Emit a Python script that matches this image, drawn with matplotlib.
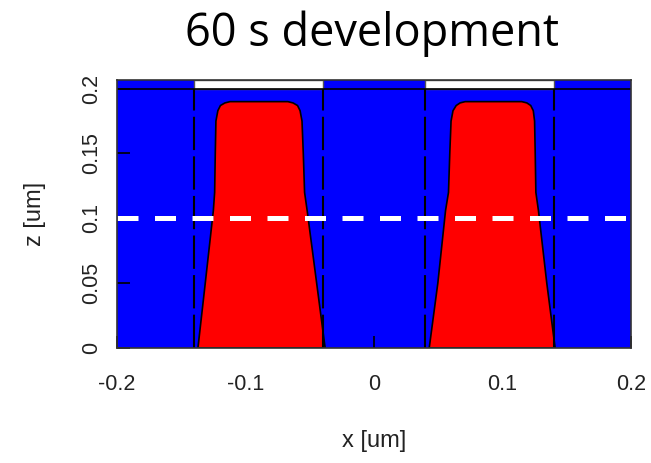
import numpy as np
import matplotlib.pyplot as plt
from matplotlib.patches import Polygon, Rectangle

# resist line profiles after development: edge positions (um) at each height z (um)
z_levels = [0.0, 0.05, 0.106, 0.12, 0.15, 0.175, 0.183, 0.187, 0.189, 0.190]
left_line_xl = [-0.137, -0.1313, -0.125, -0.124, -0.1235, -0.123, -0.1215, -0.1195, -0.116, -0.112]
left_line_xr = [-0.038, -0.0446, -0.052, -0.054, -0.055, -0.056, -0.0575, -0.0595, -0.063, -0.067]
right_line_xl = [0.043, 0.0497, 0.0557, 0.058, 0.059, 0.060, 0.0615, 0.064, 0.067, 0.071]
right_line_xr = [0.141, 0.1345, 0.128, 0.126, 0.1255, 0.125, 0.124, 0.122, 0.119, 0.115]

# mask openings and resist thickness
mask_open = [(-0.14, -0.04), (0.04, 0.14)]
resist_top = 0.2
mask_top = 0.2066
cut_z = 0.1

xticks = [-0.2, -0.1, 0, 0.1, 0.2]
yticks = [0, 0.05, 0.1, 0.15, 0.2]
xtick_labels = ['-0.2', '-0.1', '0', '0.1', '0.2']
ytick_labels = ['0', '0.05', '0.1', '0.15', '0.2']

plt.rcParams['font.family'] = ['Liberation Sans', 'DejaVu Sans']

fig = plt.figure(figsize=(6.51, 4.63), dpi=100)
ax = fig.add_axes([0.1797, 0.2484, 0.7895, 0.5786])
ax.set_xlim(-0.2, 0.2)
ax.set_ylim(0, mask_top)

# developer (blue) fills the resist layer and the mask strip
ax.add_patch(Rectangle((-0.2, 0), 0.4, resist_top, facecolor='#0000ff', edgecolor='none', zorder=1))
ax.add_patch(Rectangle((-0.2, resist_top), 0.4, mask_top - resist_top,
                       facecolor='#0000ff', edgecolor='none', zorder=1))
for x0, x1 in mask_open:
    ax.add_patch(Rectangle((x0, resist_top), x1 - x0, mask_top - resist_top,
                           facecolor='white', edgecolor='#555555', lw=1, zorder=2))
ax.axhline(resist_top, color='black', lw=1.2, zorder=3)

# remaining resist
for xl, xr in [(left_line_xl, left_line_xr), (right_line_xl, right_line_xr)]:
    pts = list(zip(xl, z_levels)) + list(zip(xr[::-1], z_levels[::-1]))
    ax.add_patch(Polygon(pts, closed=True, facecolor='#ff0000', edgecolor='black', lw=1.2, zorder=4))

# mask edges
for x0, x1 in mask_open:
    for xe in (x0, x1):
        ax.plot([xe, xe], [0, resist_top], color='black', lw=1.5,
                dashes=(16, 3), zorder=5)

# cut line
ax.plot([-0.2, 0.2], [cut_z, cut_z], color='white', lw=3.6, dashes=(4.2, 3.3), zorder=6)

ax.set_xticks(xticks)
ax.set_xticklabels(xtick_labels)
ax.set_yticks(yticks)
ax.set_yticklabels(ytick_labels, rotation=90, va='center')
ax.tick_params(direction='in', length=9, width=1.2, labelsize=15.5, colors='black')
ax.tick_params(axis='x', pad=19)
ax.tick_params(axis='y', pad=11)
for tl in ax.get_xticklabels() + ax.get_yticklabels():
    tl.set_color('#222222')
for s in ax.spines.values():
    s.set_color('#333333')
    s.set_linewidth(1.2)
    s.set_zorder(7)

ax.set_xlabel('x [um]', fontsize=17, labelpad=25, color='#222222')
ax.set_ylabel('z [um]', fontsize=17, labelpad=25, color='#222222')

fig.text(0.571, 0.927, '60 s development', fontsize=32.5, family=['Open Sans', 'DejaVu Sans'],
         ha='center', va='center', color='black')

fig.savefig('out.png', dpi=100)
